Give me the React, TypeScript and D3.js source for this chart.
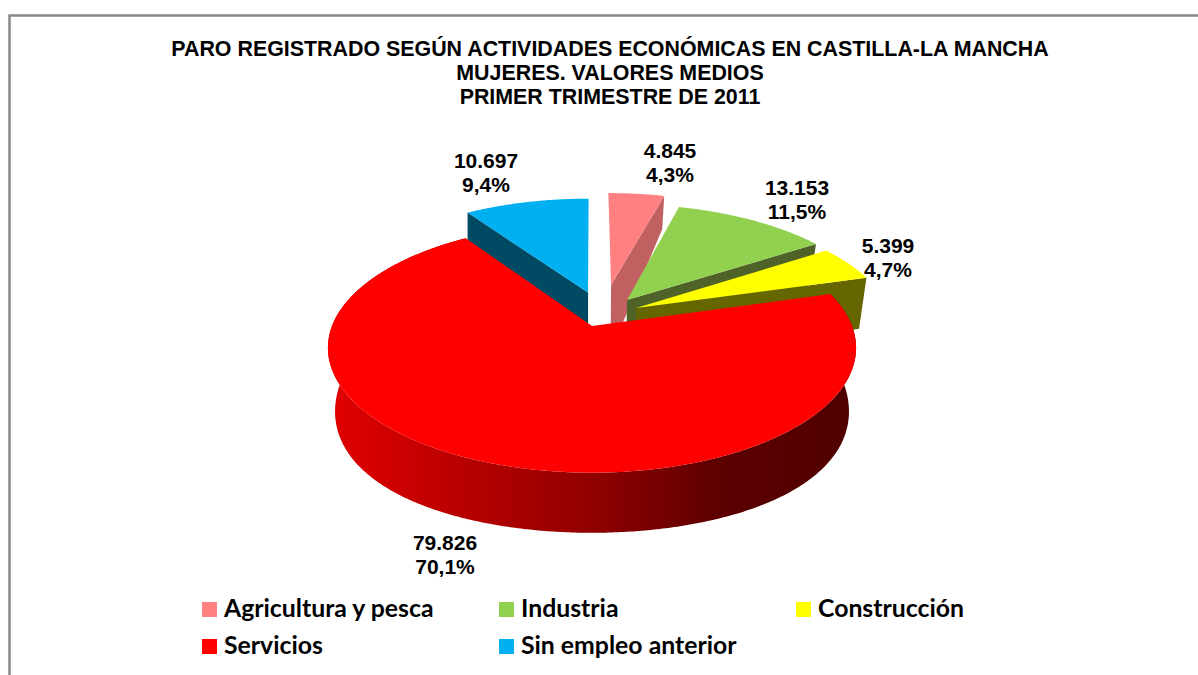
import React from 'react';
import * as d3 from 'd3';

const categories = ['Agricultura y pesca', 'Industria', 'Construcción', 'Servicios', 'Sin empleo anterior'];
const values = [4845, 13153, 5399, 79826, 10697];
const titleLines = [
  'PARO REGISTRADO SEGÚN ACTIVIDADES ECONÓMICAS EN CASTILLA-LA MANCHA',
  'MUJERES. VALORES MEDIOS',
  'PRIMER TRIMESTRE DE 2011',
];
const topColors = ['#FF8080', '#92D050', '#FFFF00', '#FF0000', '#00B0F0'];
const wallColors = ['#C06060', '#4F6228', '#666600', '#7F0000', '#004A64'];

// explosion of each slice on the pie plane, plus a bit of extra wall height
const explodeU = [0.078, 0.14, 0.174, 0, -0.016];
const explodeV = [-0.36, -0.223, -0.153, 0, -0.29];
const extraDrop = [14, 0, 0, 0, 0];
// where the two-line data labels sit (center x, first baseline)
const labelX = [670, 797, 888, 445, 486];
const labelY = [158, 195, 253, 550, 168];
// back slices are painted first, the big red one last
const paintOrder = [0, 1, 2, 4, 3];

const WIDTH = 1198;
const HEIGHT = 675;
const cx = 592;

const es = d3.formatLocale({ decimal: ',', thousands: '.', grouping: [3], currency: ['', '€'] });
const fmtValue = es.format(',d');
const fmtPct = es.format('.1f');
const total = d3.sum(values);

type P = [number, number];

// perspective projection of the top disc and of the bottom disc
const projTop = (u: number, v: number): P => {
  const w = 1 - 0.175 * v;
  return [cx + (260 * u) / w, 326 + (121 * v) / w];
};
const projBottom = (u: number, v: number, drop = 0): P => {
  const wx = 1 - 0.175 * v;
  const wy = 1 - 0.05 * v;
  return [cx + (253 * u) / wx, 387 + drop + (138.5 * v) / wy];
};

const pieGen = d3.pie<number>().sort(null).startAngle(0).endAngle(2 * Math.PI);
const slices = pieGen(values);
const line = d3.line<P>();

const arcPoints = (a0: number, a1: number, du: number, dv: number, proj: (u: number, v: number) => P): P[] => {
  const n = Math.max(2, Math.ceil((a1 - a0) / 0.01));
  return d3.range(n + 1).map((i) => {
    const a = a0 + ((a1 - a0) * i) / n;
    return proj(Math.sin(a) + du, -Math.cos(a) + dv);
  });
};

const legendCol = d3.scalePoint<number>().domain([0, 1, 2]).range([202, 796]);
const legendRow = d3.scalePoint<number>().domain([0, 1]).range([602, 639]);

export default function App() {
  const parts = paintOrder.map((i) => {
    const s = slices[i];
    const du = explodeU[i];
    const dv = explodeV[i];
    const bottom = (u: number, v: number) => projBottom(u, v, extraDrop[i]);
    const apexTop = projTop(du, dv);
    const apexBottom = bottom(du, dv);
    const rim = arcPoints(s.startAngle, s.endAngle, du, dv, projTop);
    const face = line([apexTop, ...rim]) + 'Z';

    if (i === 3) {
      // only the outer wall of the red slice can be seen
      const rimBottom = arcPoints(s.startAngle, s.endAngle, du, dv, bottom);
      const wall = line([...rim, ...rimBottom.reverse()]) + 'Z';
      return (
        <g key={i}>
          <path d={wall} fill="url(#redWall)" />
          <path d={face} fill={topColors[i]} />
        </g>
      );
    }

    // blue shows its left cut, the others their right cut
    const edgeAngle = i === 4 ? s.startAngle : s.endAngle;
    const outerTop = projTop(Math.sin(edgeAngle) + du, -Math.cos(edgeAngle) + dv);
    const outerBottom = bottom(Math.sin(edgeAngle) + du, -Math.cos(edgeAngle) + dv);
    // the blue wall drops straight down, the others lean in a little
    const wallFoot: P = i === 4 ? [outerTop[0], outerBottom[1]] : outerBottom;
    const cut = line([apexTop, outerTop, wallFoot, apexBottom]) + 'Z';
    return (
      <g key={i}>
        <path d={cut} fill={wallColors[i]} />
        <path d={face} fill={topColors[i]} />
      </g>
    );
  });

  return (
    <svg
      width={WIDTH}
      height={HEIGHT}
      style={{ position: 'absolute', left: 0, top: 0, background: '#fff' }}
    >
      <defs>
        <linearGradient id="redWall" gradientUnits="userSpaceOnUse" x1="335" x2="850" y1="0" y2="0">
          <stop offset="0" stopColor="#E00000" />
          <stop offset="0.2" stopColor="#C00000" />
          <stop offset="0.5" stopColor="#900000" />
          <stop offset="0.75" stopColor="#5C0000" />
          <stop offset="1" stopColor="#500000" />
        </linearGradient>
      </defs>

      <path d="M9.5,675V15.5H1198" fill="none" stroke="#888" strokeWidth="2.5" />

      <g fontFamily="'Liberation Sans', Arial, sans-serif" fontWeight="bold" fontSize="21.4" textAnchor="middle" fill="#000">
        {titleLines.map((t, i) => (
          <text key={i} x={610} y={56 + i * 24}>{t}</text>
        ))}
      </g>

      {parts}

      <g fontFamily="'Liberation Sans', Arial, sans-serif" fontWeight="bold" fontSize="21" textAnchor="middle" fill="#000">
        {values.map((v, i) => (
          <g key={i}>
            <text x={labelX[i]} y={labelY[i]}>{fmtValue(v)}</text>
            <text x={labelX[i]} y={labelY[i] + 24}>{fmtPct((v / total) * 100)}%</text>
          </g>
        ))}
      </g>

      <g fontFamily="Lato, 'Open Sans', sans-serif" fontWeight="bold" fontSize="24.8" fill="#000">
        {categories.map((c, i) => {
          const x = legendCol(i % 3) as number;
          const y = legendRow(Math.floor(i / 3)) as number;
          return (
            <g key={c}>
              <rect x={x} y={y} width={15} height={15} fill={topColors[i]} />
              <text x={x + 22} y={y + 15}>{c}</text>
            </g>
          );
        })}
      </g>
    </svg>
  );
}
